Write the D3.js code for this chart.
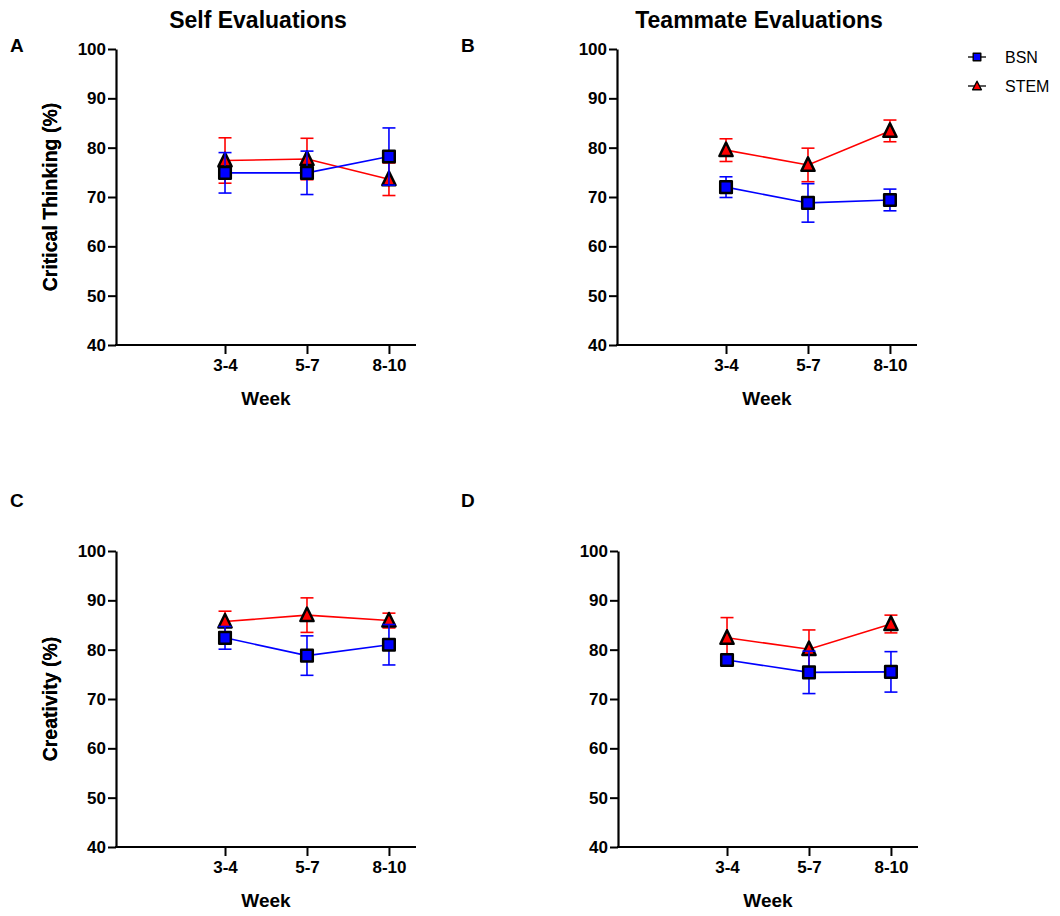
<!DOCTYPE html>
<html>
<head>
<meta charset="utf-8">
<script src="https://cdn.jsdelivr.net/npm/d3@7"></script>
<style>
  html, body { margin: 0; padding: 0; background: #fff; }
  svg { display: block; font-family: "Liberation Sans", Arial, Helvetica, sans-serif; }
</style>
</head>
<body>
<svg id="chart" width="1060" height="916"></svg>
<script>
// ---------- data ----------
const weeks = ["3-4", "5-7", "8-10"];
const yTicks = [40, 50, 60, 70, 80, 90, 100];
const seriesNames = ["BSN", "STEM"];

const selfCT_BSN = [74.9, 74.9, 78.2];
const selfCT_BSN_err = [4.1, 4.4, 5.8];
const selfCT_STEM = [77.4, 77.7, 73.6];
const selfCT_STEM_err = [4.6, 4.2, 3.3];

const teamCT_BSN = [72.0, 68.8, 69.4];
const teamCT_BSN_err = [2.1, 3.9, 2.2];
const teamCT_STEM = [79.5, 76.5, 83.4];
const teamCT_STEM_err = [2.3, 3.4, 2.2];

const selfCr_BSN = [82.4, 78.8, 81.0];
const selfCr_BSN_err = [2.3, 4.0, 4.1];
const selfCr_STEM = [85.7, 87.0, 85.9];
const selfCr_STEM_err = [2.1, 3.5, 1.5];

const teamCr_BSN = [77.9, 75.4, 75.5];
const teamCr_BSN_err = [1.0, 4.3, 4.1];
const teamCr_STEM = [82.4, 80.1, 85.2];
const teamCr_STEM_err = [4.1, 3.9, 1.8];

// ---------- layout ----------
const panels = [
  { letter: "A", ylabel: "Critical Thinking (%)", x0: 116, top: 49, bottom: 345, lx: 10, ly: 52,
    bsn: selfCT_BSN, bsnErr: selfCT_BSN_err, stem: selfCT_STEM, stemErr: selfCT_STEM_err },
  { letter: "B", ylabel: "Critical Thinking (%)", x0: 617, top: 49, bottom: 345, lx: 461, ly: 52,
    bsn: teamCT_BSN, bsnErr: teamCT_BSN_err, stem: teamCT_STEM, stemErr: teamCT_STEM_err },
  { letter: "C", ylabel: "Creativity (%)", x0: 116, top: 551, bottom: 847, lx: 10, ly: 507,
    bsn: selfCr_BSN, bsnErr: selfCr_BSN_err, stem: selfCr_STEM, stemErr: selfCr_STEM_err },
  { letter: "D", ylabel: "Creativity (%)", x0: 618, top: 551, bottom: 847, lx: 461, ly: 507,
    bsn: teamCr_BSN, bsnErr: teamCr_BSN_err, stem: teamCr_STEM, stemErr: teamCr_STEM_err }
];
const axisWidth = 300;
const colors = { BSN: "#0000ff", STEM: "#ff0000" };

const svg = d3.select("#chart");

// titles
svg.append("text").attr("x", 258).attr("y", 28).attr("text-anchor", "middle")
  .attr("font-weight", "bold").attr("font-size", 23).text("Self Evaluations");
svg.append("text").attr("x", 759).attr("y", 28).attr("text-anchor", "middle")
  .attr("font-weight", "bold").attr("font-size", 23).text("Teammate Evaluations");

function squarePath(s) {
  return `M${-s},${-s}H${s}V${s}H${-s}Z`;
}
function trianglePath(h, w) {
  return `M0,${-h}L${w},${h * 0.78}L${-w},${h * 0.78}Z`;
}

panels.forEach(p => {
  const g = svg.append("g");
  const x = d3.scaleLinear().domain([-1.33, 2.33]).range([p.x0, p.x0 + axisWidth]);
  const y = d3.scaleLinear().domain([40, 100]).range([p.bottom, p.top]);

  // panel letter
  svg.append("text").attr("x", p.lx).attr("y", p.ly).attr("font-weight", "bold")
    .attr("font-size", 19).text(p.letter);

  // y axis
  const yAxis = g.append("g").attr("transform", `translate(${p.x0},0)`)
    .call(d3.axisLeft(y).tickValues(yTicks).tickSize(8).tickPadding(2).tickSizeOuter(0));
  // x axis
  const xAxis = g.append("g").attr("transform", `translate(0,${p.bottom})`)
    .call(d3.axisBottom(x).tickValues([0, 1, 2]).tickFormat(i => weeks[i])
      .tickSize(9).tickPadding(5).tickSizeOuter(0));
  [yAxis, xAxis].forEach(a => {
    a.select(".domain").attr("stroke", "#000").attr("stroke-width", 2.2);
    a.selectAll(".tick line").attr("stroke", "#000").attr("stroke-width", 2);
    a.selectAll(".tick text").attr("fill", "#000").attr("font-weight", "bold")
      .attr("font-size", 17).attr("font-family", "Liberation Sans, Arial, sans-serif");
  });
  xAxis.select(".domain").attr("d", `M${p.x0 - 1},0H${p.x0 + axisWidth}`);

  // axis titles
  g.append("text").attr("x", p.x0 + 150).attr("y", p.bottom + 60).attr("text-anchor", "middle")
    .attr("font-weight", "bold").attr("font-size", 19).text("Week");
  g.append("text")
    .attr("transform", `translate(57,${(p.top + p.bottom) / 2}) rotate(-90)`)
    .attr("text-anchor", "middle").attr("font-weight", "bold").attr("font-size", 19.5)
    .text(p.ylabel);

  const sets = [
    { name: "STEM", vals: p.stem, errs: p.stemErr },
    { name: "BSN", vals: p.bsn, errs: p.bsnErr }
  ];
  sets.forEach(s => {
    const col = colors[s.name];
    const sg = g.append("g");
    const line = d3.line().x((d, i) => x(i)).y(d => y(d));
    sg.append("path").datum(s.vals).attr("d", line).attr("fill", "none")
      .attr("stroke", col).attr("stroke-width", 1.6);
    s.vals.forEach((v, i) => {
      const cx = x(i), yt = y(v + s.errs[i]), yb = y(v - s.errs[i]);
      sg.append("line").attr("x1", cx).attr("x2", cx).attr("y1", yt).attr("y2", yb)
        .attr("stroke", col).attr("stroke-width", 1.6);
      [yt, yb].forEach(yy => sg.append("line").attr("x1", cx - 6.5).attr("x2", cx + 6.5)
        .attr("y1", yy).attr("y2", yy).attr("stroke", col).attr("stroke-width", 1.6));
    });
    s.vals.forEach((v, i) => {
      sg.append("path")
        .attr("d", s.name === "BSN" ? squarePath(5.8) : trianglePath(7.6, 6.6))
        .attr("transform", `translate(${x(i)},${y(v)})`)
        .attr("fill", col).attr("stroke", "#000").attr("stroke-width", 2.5)
        .attr("stroke-linejoin", "round");
    });
  });
});

// legend
const legend = svg.append("g");
seriesNames.forEach((n, i) => {
  const ly = 57 + i * 29;
  legend.append("line").attr("x1", 968).attr("x2", 986).attr("y1", ly).attr("y2", ly)
    .attr("stroke", "#000").attr("stroke-width", 1.3);
  legend.append("path")
    .attr("d", n === "BSN" ? squarePath(3.8) : trianglePath(4.8, 4.4))
    .attr("transform", `translate(977,${ly})`)
    .attr("fill", colors[n]).attr("stroke", "#000").attr("stroke-width", 1.4)
    .attr("stroke-linejoin", "round");
  legend.append("text").attr("x", 1005).attr("y", ly + 6).attr("font-size", 16).text(n);
});
</script>
</body>
</html>
